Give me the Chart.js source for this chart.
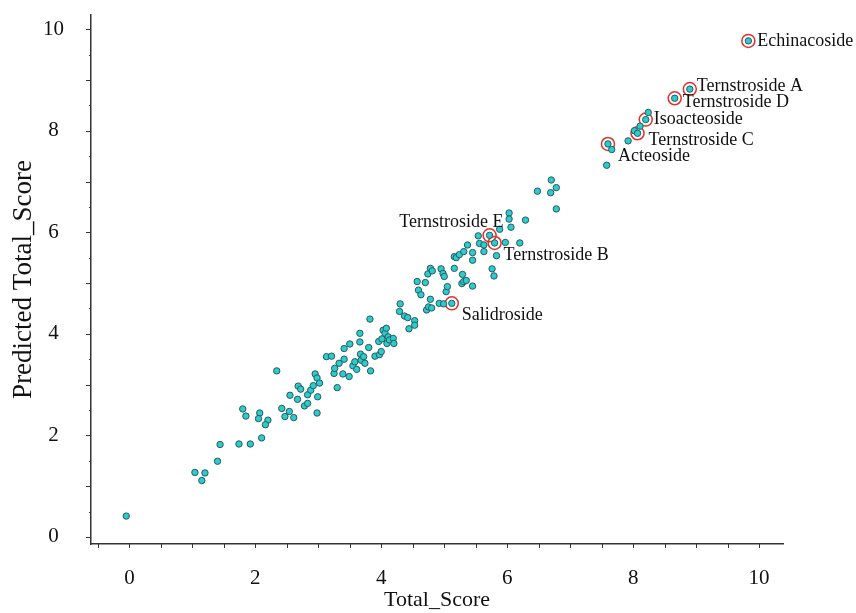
<!DOCTYPE html>
<html>
<head>
<meta charset="utf-8">
<script src="https://cdn.jsdelivr.net/npm/chart.js@4.4.1/dist/chart.umd.min.js"></script>
<style>
  body { margin: 0; background: #fff; }
  canvas { display: block; }
</style>
</head>
<body>
<canvas id="scoreChart" width="856" height="613"></canvas>
<script>
const totalScore = [
  -0.05, 1.04, 1.20, 1.15, 1.40, 1.44, 1.74, 1.92, 2.10, 1.80, 1.85, 2.07, 2.05, 2.20, 2.16,
  2.34, 2.42, 2.47, 2.54, 2.55, 2.61, 2.67, 2.68, 2.72, 2.78, 2.83, 2.83, 2.88, 2.92, 2.95,
  2.98, 3.02, 2.99, 2.98, 3.13, 3.21, 3.25, 3.33, 3.30, 3.26, 3.41, 3.41, 3.39, 3.49, 3.50,
  3.55, 3.58, 3.61, 3.66, 3.66, 3.67, 3.68, 3.72, 3.74, 3.80, 3.83, 3.82, 3.90, 3.96, 3.97,
  4.00, 4.01, 4.03, 4.06, 4.08, 4.11, 4.09, 4.13, 4.19, 4.20, 4.30, 4.29, 4.37, 4.42, 4.44,
  4.53, 4.53, 4.57, 4.59, 4.63, 4.70, 4.74, 4.78, 4.78, 4.81, 4.72, 4.75, 4.80, 4.92, 4.95,
  4.98, 5.00, 5.03, 5.05, 4.99, 5.16, 5.16, 5.19, 5.24, 5.29, 5.28, 5.31, 5.31, 5.37, 5.35,
  5.45, 5.45, 5.45, 5.54, 5.56, 5.63, 5.63, 5.76, 5.79, 5.83, 5.97, 6.20, 6.03, 6.03, 6.29,
  6.06, 5.88, 6.70, 6.78, 6.69, 6.48, 6.78, 7.66, 7.58, 7.92, 8.24, 8.11, 8.02
];
const predictedScore = [
  0.41, 1.27, 1.26, 1.11, 1.49, 1.82, 1.83, 1.83, 1.95, 2.52, 2.38, 2.44, 2.33, 2.30, 2.21,
  3.27, 2.53, 2.37, 2.47, 2.79, 2.35, 2.71, 2.97, 2.91, 2.58, 2.63, 2.80, 2.89, 2.98, 3.21,
  3.13, 3.03, 2.76, 2.44, 3.55, 3.56, 3.22, 3.42, 2.94, 3.32, 3.71, 3.50, 3.21, 3.16, 3.80,
  3.37, 3.45, 3.30, 4.01, 3.84, 3.60, 3.48, 3.55, 3.42, 3.73, 3.27, 4.29, 3.56, 3.85, 3.59,
  3.65, 3.90, 4.07, 4.01, 4.11, 3.94, 3.81, 3.88, 3.91, 3.81, 4.59, 4.44, 4.35, 4.32, 4.10,
  4.26, 4.17, 5.03, 4.86, 4.77, 5.01, 5.18, 5.29, 4.68, 5.24, 4.47, 4.53, 4.51, 4.60, 5.28,
  5.19, 5.13, 4.83, 4.93, 4.59, 5.52, 5.29, 5.50, 5.56, 5.17, 4.99, 5.03, 5.62, 5.75, 5.05,
  4.94, 5.60, 5.45, 5.93, 5.78, 5.75, 5.62, 5.28, 5.14, 5.54, 5.80, 5.79, 6.38, 6.26, 6.24,
  6.10, 6.06, 7.03, 6.88, 6.78, 6.81, 6.46, 7.63, 7.32, 7.80, 8.36, 8.09, 8.00
];

// highlighted compounds
const compoundNames = [
  "Echinacoside", "Ternstroside A", "Ternstroside D", "Isoacteoside", "Ternstroside C",
  "Acteoside", "Ternstroside E", "Ternstroside B", "Salidroside"
];
const compoundTotal = [9.83, 8.90, 8.66, 8.20, 8.07, 7.60, 5.72, 5.80, 5.12];
const compoundPredicted = [9.77, 8.82, 8.64, 8.22, 7.95, 7.74, 5.94, 5.79, 4.60];

const xTickLabels = ["0", "2", "4", "6", "8", "10"];
const yTickLabels = ["0", "2", "4", "6", "8", "10"];

// label placement next to each ring: [dx, dy, align]
const labelOffsets = [
  [9, 0, "left"], [7, -3, "left"], [8, 4, "left"], [8, 0, "left"], [11, 7, "left"],
  [10, 12, "left"], [14, -13, "right"], [9, 12, "left"], [10, 12, "left"]
];

const serif = "'Liberation Serif', 'Times New Roman', serif";

const toPoints = (xs, ys) => xs.map((v, i) => ({ x: v, y: ys[i] }));

// a tick every 0.5 inside the axis range
const halfStepTicks = scale => {
  const ticks = [];
  for (let v = Math.ceil(scale.min * 2) / 2; v <= scale.max + 1e-9; v += 0.5) {
    ticks.push({ value: v });
  }
  scale.ticks = ticks;
};

// small tick marks along both axes
const axisTicks = {
  id: "axisTicks",
  afterDraw(chart) {
    const { ctx, scales: { x, y } } = chart;
    ctx.save();
    ctx.strokeStyle = "#333";
    ctx.lineWidth = 1;
    x.ticks.forEach(t => {
      const px = Math.round(x.getPixelForValue(t.value)) + 0.5;
      ctx.beginPath();
      ctx.moveTo(px, x.top);
      ctx.lineTo(px, x.top + 4);
      ctx.stroke();
    });
    y.ticks.forEach(t => {
      const py = Math.round(y.getPixelForValue(t.value)) + 0.5;
      const len = Number.isInteger(t.value) ? 5 : 2;
      ctx.beginPath();
      ctx.moveTo(y.right, py);
      ctx.lineTo(y.right - len, py);
      ctx.stroke();
    });
    ctx.restore();
  }
};

// compound names beside the red rings
const compoundLabels = {
  id: "compoundLabels",
  afterDatasetsDraw(chart) {
    const { ctx } = chart;
    const meta = chart.getDatasetMeta(1);
    ctx.save();
    ctx.font = "18px " + serif;
    ctx.fillStyle = "#111";
    ctx.textBaseline = "middle";
    meta.data.forEach((pt, i) => {
      const [dx, dy, align] = labelOffsets[i];
      ctx.textAlign = align;
      ctx.fillText(compoundNames[i], pt.x + dx, pt.y + dy);
    });
    ctx.restore();
  }
};

const tickLabel = (labels) => value => {
  const s = String(Math.round(value * 100) / 100);
  return labels.includes(s) ? s : "";
};

new Chart(document.getElementById("scoreChart").getContext("2d"), {
  type: "scatter",
  data: {
    datasets: [
      {
        label: "Compounds",
        data: toPoints(totalScore.concat(compoundTotal), predictedScore.concat(compoundPredicted)),
        backgroundColor: "#2ccccc",
        borderColor: "#2a5960",
        borderWidth: 1,
        pointRadius: 3.2
      },
      {
        label: "Highlighted",
        data: toPoints(compoundTotal, compoundPredicted),
        backgroundColor: "rgba(0,0,0,0)",
        borderColor: "#e3302b",
        borderWidth: 1.5,
        pointRadius: 6.5
      }
    ]
  },
  options: {
    responsive: false,
    animation: false,
    devicePixelRatio: 1,
    layout: { padding: { top: 15, right: 73, bottom: 0, left: 0 } },
    plugins: {
      legend: { display: false },
      tooltip: { enabled: false }
    },
    scales: {
      x: {
        type: "linear",
        min: -0.61,
        max: 10.38,
        afterBuildTicks: halfStepTicks,
        afterFit: scale => {
          scale.height = 69;
          scale.paddingLeft = 0;
          scale.paddingRight = 0;
        },
        grid: { display: false, drawTicks: false },
        border: { display: true, color: "#333", width: 1.5 },
        ticks: {
          autoSkip: false,
          maxRotation: 0,
          padding: 22,
          color: "#111",
          font: { family: serif, size: 21 },
          callback: tickLabel(xTickLabels)
        },
        title: {
          display: true,
          text: "Total_Score",
          color: "#111",
          font: { family: serif, size: 22 },
          padding: { top: 4, bottom: 0 }
        }
      },
      y: {
        type: "linear",
        min: -0.14,
        max: 10.28,
        afterBuildTicks: halfStepTicks,
        afterFit: scale => {
          scale.width = 91;
          scale.paddingTop = 0;
          scale.paddingBottom = 0;
        },
        grid: { display: false, drawTicks: false },
        border: { display: true, color: "#333", width: 1.5 },
        ticks: {
          autoSkip: false,
          padding: 27,
          crossAlign: "center",
          color: "#111",
          font: { family: serif, size: 21 },
          callback: tickLabel(yTickLabels)
        },
        title: {
          display: true,
          text: "Predicted Total_Score",
          color: "#111",
          font: { family: serif, size: 27 },
          padding: { top: 8, bottom: 0 }
        }
      }
    }
  },
  plugins: [axisTicks, compoundLabels]
});
</script>
</body>
</html>
